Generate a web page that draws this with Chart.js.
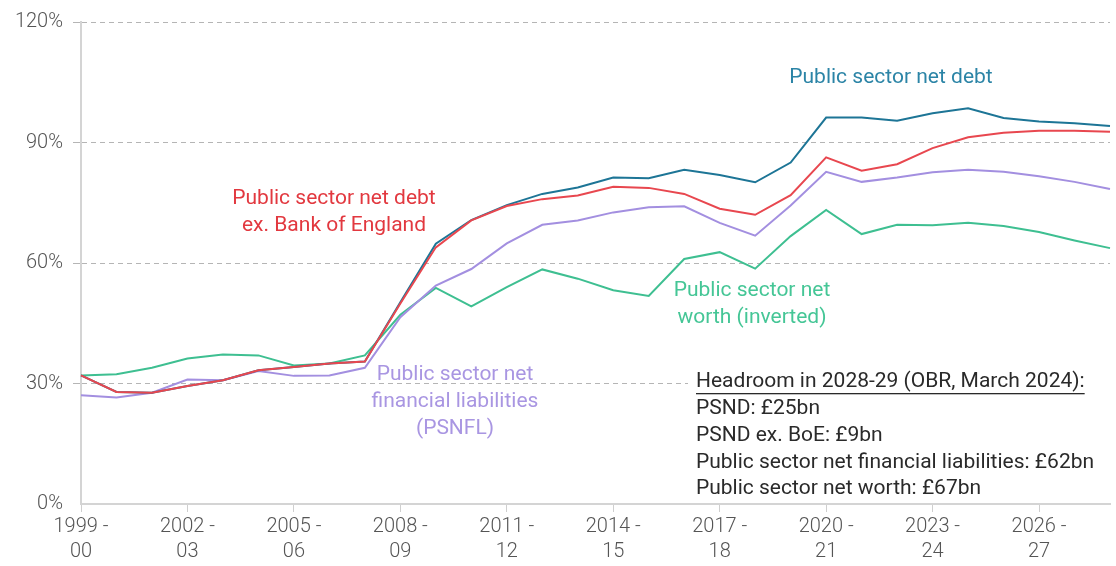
<!DOCTYPE html>
<html>
<head>
<meta charset="utf-8">
<script src="https://cdn.jsdelivr.net/npm/chart.js@4"></script>
<style>
    body { margin: 0; background: #fff; }
    #wrap { width: 1116px; height: 566px; position: relative; }
</style>
</head>
<body>
<div id="wrap"><canvas id="debtChart"></canvas></div>
<script>
// Fiscal years
const years = ['1999-00', '2000-01', '2001-02', '2002-03', '2003-04', '2004-05', '2005-06', '2006-07', '2007-08', '2008-09',
    '2009-10', '2010-11', '2011-12', '2012-13', '2013-14', '2014-15', '2015-16', '2016-17', '2017-18', '2018-19',
    '2019-20', '2020-21', '2021-22', '2022-23', '2023-24', '2024-25', '2025-26', '2026-27', '2027-28', '2028-29'];

// % of GDP
const psnd = [32.0, 27.9, 27.7, 29.4, 30.8, 33.3, 34.1, 35.0, 35.5, 50.2, 64.8, 70.7, 74.4, 77.2, 78.8,
    81.3, 81.1, 83.2, 81.9, 80.1, 85.0, 96.2, 96.2, 95.4, 97.3, 98.5, 96.1, 95.2, 94.8, 94.1];
const psndExBoe = [32.0, 27.9, 27.7, 29.4, 30.8, 33.3, 34.1, 35.0, 35.5, 49.9, 63.9, 70.6, 74.2, 75.9, 76.8,
    79.0, 78.7, 77.2, 73.5, 72.0, 76.9, 86.3, 83.0, 84.6, 88.6, 91.3, 92.4, 92.9, 92.9, 92.7];
const psnfl = [27.1, 26.5, 27.7, 31.0, 30.8, 33.1, 31.9, 32.0, 33.9, 46.5, 54.4, 58.5, 64.9, 69.5, 70.6,
    72.6, 73.9, 74.1, 70.0, 66.8, 74.3, 82.7, 80.2, 81.3, 82.6, 83.2, 82.7, 81.6, 80.2, 78.4];
const psnwInverted = [32.0, 32.3, 33.9, 36.2, 37.2, 37.0, 34.5, 35.0, 37.0, 47.1, 53.8, 49.2, 54.0, 58.4, 56.1,
    53.2, 51.8, 61.0, 62.7, 58.6, 66.7, 73.2, 67.2, 69.5, 69.4, 70.0, 69.2, 67.7, 65.6, 63.7];

const yTicks = [0, 30, 60, 90, 120];

const headroomLines = [
    'Headroom in 2028-29 (OBR, March 2024):',
    'PSND: £25bn',
    'PSND ex. BoE: £9bn',
    'Public sector net financial liabilities: £62bn',
    'Public sector net worth: £67bn'
];

const FONT = 'Roboto, "Noto Sans", sans-serif';

// Series labels and headroom box
const annotations = {
    id: 'annotations',
    afterDatasetsDraw(chart) {
        const c = chart.ctx;
        c.save();
        c.font = '21px ' + FONT;
        c.textAlign = 'center';
        c.textBaseline = 'middle';

        const labels = [
            { color: '#2b84a6', x: 891, lines: ['Public sector net debt'], y: 78 },
            { color: '#e2383f', x: 334, lines: ['Public sector net debt', 'ex. Bank of England'], y: 199 },
            { color: '#45c696', x: 752, lines: ['Public sector net', 'worth (inverted)'], y: 291 },
            { color: '#a996e2', x: 455, lines: ['Public sector net', 'financial liabilities', '(PSNFL)'], y: 375 }
        ];
        labels.forEach(l => {
            c.fillStyle = l.color;
            l.lines.forEach((t, i) => c.fillText(t, l.x, l.y + i * 27));
        });

        // white box behind headroom text
        c.fillStyle = '#fff';
        c.fillRect(688, 366, chart.chartArea.right - 688, 134);

        c.textAlign = 'left';
        c.fillStyle = '#2a2a2a';
        headroomLines.forEach((t, i) => {
            const y = 382 + i * 26.8;
            c.fillText(t, 696, y);
            if (i === 0) {
                const w = c.measureText(t).width;
                c.fillRect(696, y + 11, w, 1.3);
            }
        });
        c.restore();
    }
};

const ctx = document.getElementById('debtChart');
new Chart(ctx, {
    type: 'line',
    data: {
        labels: years,
        datasets: [
            { label: 'PSND ex. BoE', data: psndExBoe, borderColor: '#e8474f' },
            { label: 'PSND', data: psnd, borderColor: '#1d7596' },
            { label: 'PSNFL', data: psnfl, borderColor: '#a38fe0' },
            { label: 'PSNW (inverted)', data: psnwInverted, borderColor: '#3ebf91' }
        ].map(d => Object.assign(d, { borderWidth: 2, pointRadius: 0, tension: 0, fill: false }))
    },
    options: {
        responsive: true,
        maintainAspectRatio: false,
        animation: false,
        layout: { padding: { top: 21, right: 6, left: 0, bottom: 0 } },
        plugins: {
            legend: { display: false },
            tooltip: { enabled: false }
        },
        scales: {
            x: {
                offset: false,
                afterFit: (scale) => { scale.height = 62; },
                grid: {
                    drawOnChartArea: false,
                    drawTicks: true,
                    tickLength: 8,
                    color: (c) => (c.index % 3 === 0 ? '#cfcfcf' : 'rgba(0,0,0,0)')
                },
                border: { display: true, color: '#d4d4d4', width: 2 },
                ticks: {
                    autoSkip: false,
                    maxRotation: 0,
                    padding: 2,
                    color: '#555',
                    font: { family: FONT, size: 20, weight: 300, lineHeight: 1.25 },
                    callback: function (v, i) {
                        if (i % 3 !== 0) return '';
                        const parts = years[i].split('-');
                        return [parts[0] + ' -', parts[1]];
                    }
                }
            },
            y: {
                min: yTicks[0],
                max: yTicks[yTicks.length - 1],
                afterFit: (scale) => { scale.width = 81; },
                afterBuildTicks: (scale) => { scale.ticks = yTicks.map(v => ({ value: v })); },
                grid: {
                    color: (c) => (c.tick && c.tick.value === 0 ? 'rgba(0,0,0,0)' : '#b5b5b5'),
                    tickLength: 8,
                    lineWidth: 1
                },
                border: { display: true, color: '#d4d4d4', width: 2, dash: [5, 4] },
                ticks: {
                    padding: 10,
                    color: '#555',
                    font: { family: FONT, size: 20, weight: 300 },
                    callback: (v) => v + '%'
                }
            }
        }
    },
    plugins: [annotations]
});
</script>
</body>
</html>
